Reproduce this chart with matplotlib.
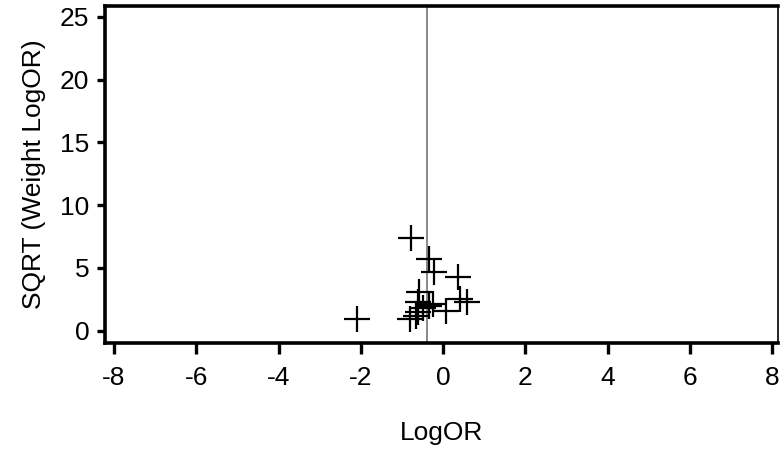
import matplotlib
matplotlib.use('Agg')
import matplotlib.pyplot as plt
import numpy as np

# study estimates
logor = [-2.10, -0.77, -0.35, -0.22, 0.37, -0.59, 0.57, 0.40, -0.62,
         -0.35, -0.80, -0.66, 0.06, -0.50, -0.60, -0.25]
sqrtw = [0.95, 7.40, 5.70, 4.70, 4.30, 3.10, 2.30, 2.50, 2.30,
         2.00, 0.90, 1.20, 1.60, 1.80, 1.50, 2.10]
pooled = -0.38

xticks = np.arange(-8, 9, 2)
yticks = np.arange(0, 26, 5)

plt.rcParams['font.family'] = ['Liberation Sans', 'DejaVu Sans']

fig = plt.figure(figsize=(7.8, 4.55), dpi=100)
ax = fig.add_axes([0.134, 0.2468, 0.864, 0.741])

ax.axvline(pooled, color='gray', lw=1.3, zorder=1)
ax.plot(logor, sqrtw, '+', color='black', markersize=19, markeredgewidth=1.6, zorder=2)

ax.set_xlim(-8.23, 8.15)
ax.set_ylim(-0.96, 25.9)
ax.set_xticks(xticks)
ax.set_yticks(yticks)
ax.set_xticklabels([str(v) for v in xticks])
ax.set_yticklabels([str(v) for v in yticks])

for s in ['left', 'bottom', 'top']:
    ax.spines[s].set_linewidth(2.6)
ax.spines['right'].set_linewidth(1.2)
ax.tick_params(axis='x', direction='out', length=8, width=2.4, labelsize=19, pad=9)
ax.tick_params(axis='y', direction='out', length=6, width=2.4, labelsize=19, pad=5)

ax.set_xlabel('LogOR', fontsize=19, labelpad=22)
ax.set_ylabel('SQRT (Weight LogOR)', fontsize=19, labelpad=10)

plt.savefig('out.png', dpi=100)
